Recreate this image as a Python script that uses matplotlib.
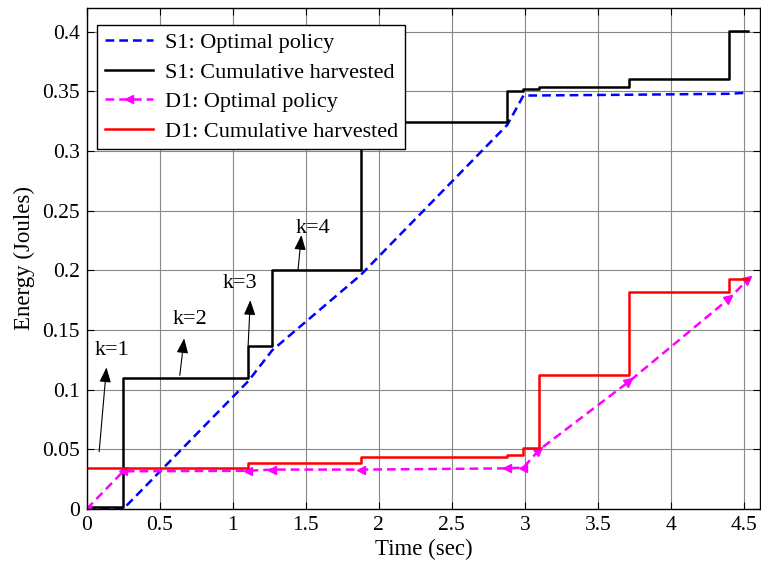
import numpy as np
import matplotlib
matplotlib.use('Agg')
import matplotlib.pyplot as plt
from matplotlib.markers import MarkerStyle
from matplotlib.transforms import Affine2D
from matplotlib.ticker import FormatStrFormatter, MultipleLocator

plt.rcParams['font.family'] = ['Liberation Serif', 'DejaVu Serif']

# S1: cumulative harvested energy (step, held after each instant)
s1_harv_t = [0, 0.25, 1.105, 1.27, 1.875, 2.88, 2.99, 3.10, 3.715, 4.40, 4.53]
s1_harv_e = [0.002, 0.110, 0.137, 0.200, 0.324, 0.350, 0.352, 0.354, 0.360, 0.401, 0.401]

# S1: optimal policy
s1_opt_t = [0, 0.25, 1.105, 1.27, 1.875, 2.88, 2.99, 3.10, 3.715, 4.40, 4.53]
s1_opt_e = [0, 0, 0.107, 0.133, 0.196, 0.322, 0.3465, 0.3466, 0.3472, 0.348, 0.349]

# D1: cumulative harvested energy
d1_harv_t = [0, 1.105, 1.875, 2.88, 2.99, 3.10, 3.715, 4.40, 4.53]
d1_harv_e = [0.034, 0.0388, 0.0434, 0.0456, 0.0509, 0.112, 0.182, 0.1927, 0.1927]

# D1: optimal policy
d1_opt_t = [0, 0.25, 1.105, 1.27, 1.875, 2.88, 2.99, 3.10, 3.715, 4.40, 4.53]
d1_opt_e = [0, 0.0316, 0.032, 0.033, 0.033, 0.034, 0.0347, 0.0498, 0.107, 0.1765, 0.1927]

# k annotations: label, text position, arrow tail, arrow head
k_labels = ['k=1', 'k=2', 'k=3', 'k=4']
k_text = [(0.17, 0.133), (0.705, 0.159), (1.05, 0.189), (1.55, 0.235)]
k_tail = [(0.085, 0.048), (0.637, 0.112), (1.105, 0.137), (1.447, 0.2008)]
k_head = [(0.135, 0.1186), (0.667, 0.143), (1.12, 0.175), (1.47, 0.2296)]

fig = plt.figure(figsize=(7.61, 5.63), dpi=100)
ax = fig.add_axes([0.114, 0.096, 0.8847, 0.89])

ax.plot(s1_opt_t, s1_opt_e, '--', color='#0000ff', lw=1.8, dashes=(3.5, 2),
        label='S1: Optimal policy')
ax.step(s1_harv_t, s1_harv_e, where='post', color='black', lw=1.8,
        label='S1: Cumulative harvested')
ax.plot(d1_opt_t, d1_opt_e, '--', color='#ff00ff', lw=1.8, dashes=(3.5, 2),
        marker='<', markersize=6, markevery=list(range(7)),
        label='D1: Optimal policy')
# arrowhead markers on the rising part follow the line direction
up = MarkerStyle('>', transform=Affine2D().rotate_deg(40))
ax.plot(d1_opt_t[7:], d1_opt_e[7:], ls='none', marker=up, markersize=6,
        color='#ff00ff')
ax.step(d1_harv_t, d1_harv_e, where='post', color='#ff0000', lw=1.8,
        label='D1: Cumulative harvested')

for lab, tp, tl, hd in zip(k_labels, k_text, k_tail, k_head):
    ax.annotate('', xy=hd, xytext=tl,
                arrowprops=dict(arrowstyle='-|>,head_length=0.9,head_width=0.35',
                                color='black', lw=0.8, shrinkA=0, shrinkB=0))
    ax.text(tp[0], tp[1], lab, ha='center', va='center', fontsize=16)

ax.set_xlim(0, 4.61)
ax.set_ylim(0, 0.42)
ax.xaxis.set_major_locator(MultipleLocator(0.5))
ax.yaxis.set_major_locator(MultipleLocator(0.05))
ax.xaxis.set_major_formatter(FormatStrFormatter('%g'))
ax.yaxis.set_major_formatter(FormatStrFormatter('%g'))
ax.tick_params(direction='in', length=5, width=0.8, top=True, right=True,
               labelsize=15.5, pad=5)
ax.grid(True, color='#888888', lw=0.8)
for sp in ax.spines.values():
    sp.set_linewidth(1.0)

ax.set_xlabel('Time (sec)', fontsize=16.5, labelpad=3)
ax.set_ylabel('Energy (Joules)', fontsize=16.5, labelpad=5)

leg = ax.legend(loc='upper left', bbox_to_anchor=(0.0149, 0.966),
                borderaxespad=0, fontsize=16, fancybox=False, framealpha=1,
                edgecolor='black', handlelength=2.2, labelspacing=0.4,
                borderpad=0.35, handletextpad=0.5)
leg.get_frame().set_linewidth(1.0)

fig.savefig('out.png', dpi=100)
